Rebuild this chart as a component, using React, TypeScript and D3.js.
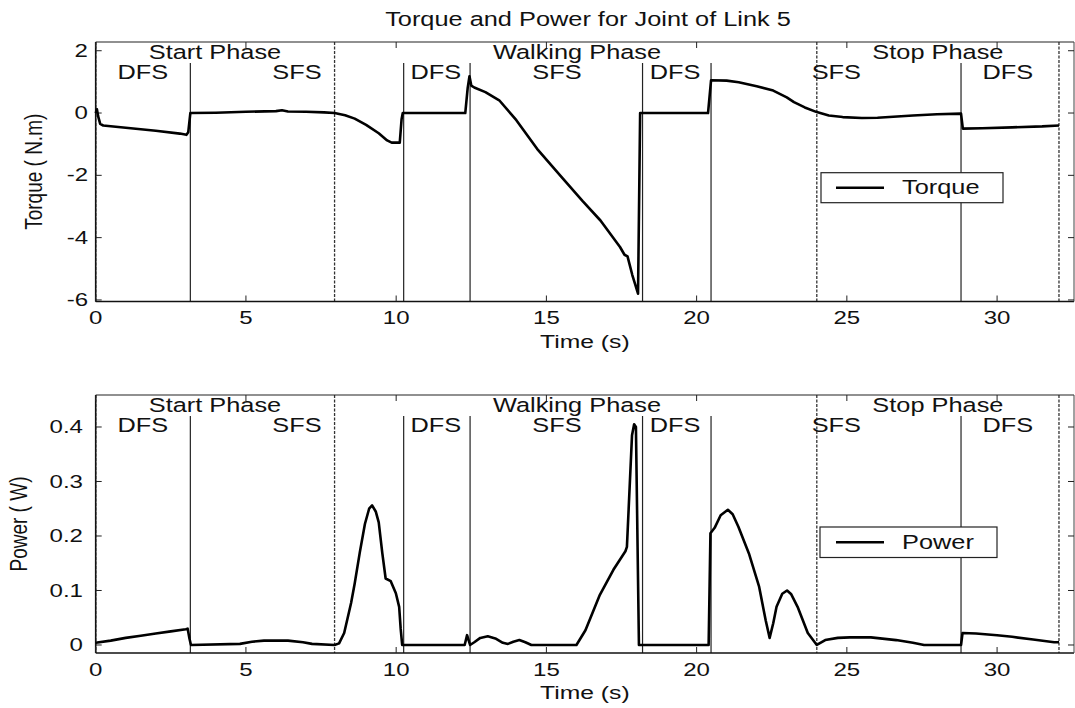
import React from "react";
import * as d3 from "d3";

// ---------- data ----------
const titleText = "Torque and Power for Joint of Link 5";
const xTicks = [0, 5, 10, 15, 20, 25, 30];
const torqueTicks = [-6, -4, -2, 0, 2];
const powerTicks = [0, 0.1, 0.2, 0.3, 0.4];

// phase boundaries (s)
const phaseLines = [0, 7.95, 24.0, 32.06];
const subPhaseLines = [3.15, 10.25, 12.46, 18.2, 20.48, 28.8];

// labels: [time centre, text]
const phaseNames: [number, string][] = [
  [3.97, "Start Phase"],
  [16.02, "Walking Phase"],
  [28.03, "Stop Phase"],
];
const subPhaseNames: [number, string][] = [
  [1.57, "DFS"],
  [6.7, "SFS"],
  [11.32, "DFS"],
  [15.35, "SFS"],
  [19.28, "DFS"],
  [24.65, "SFS"],
  [30.36, "DFS"],
];

const torqueT = [
  0.0, 0.04, 0.08, 0.15, 0.25, 1.0, 2.0, 2.8, 3.02, 3.08, 3.15, 4.0, 5.0, 6.0, 6.2, 6.4, 7.0, 7.6, 7.95,
  8.3, 8.62, 9.0, 9.42, 9.7, 9.85, 10.12, 10.18, 10.22, 12.3, 12.38, 12.44, 12.5, 12.6, 12.97, 13.43,
  14.0, 14.69, 15.5, 16.2, 16.8, 17.45, 17.6, 17.7, 17.86, 18.05, 18.12, 20.38, 20.48, 21.0, 21.4,
  22.0, 22.55, 23.0, 23.24, 23.6, 24.0, 24.4, 24.86, 25.5, 26.02, 27.2, 28.0, 28.8, 28.86, 29.5, 30.5,
  31.5, 32.06,
];
const torqueV = [
  0.0, 0.12, -0.1, -0.35, -0.4, -0.47, -0.57, -0.66, -0.7, -0.62, 0.0, 0.01, 0.04, 0.06, 0.09, 0.05,
  0.04, 0.02, 0.0, -0.07, -0.18, -0.38, -0.65, -0.88, -0.95, -0.95, -0.2, 0.0, 0.0, 0.8, 1.18, 0.88,
  0.82, 0.67, 0.41, -0.23, -1.15, -2.05, -2.82, -3.45, -4.3, -4.55, -4.6, -5.2, -5.8, 0.0, 0.0, 1.05,
  1.04, 0.99, 0.86, 0.72, 0.5, 0.35, 0.18, 0.03, -0.08, -0.13, -0.16, -0.15, -0.08, -0.04, -0.02,
  -0.5, -0.49, -0.46, -0.43, -0.4,
];

const powerT = [
  0.0, 0.5, 1.0, 1.5, 2.0, 2.5, 3.0, 3.06, 3.12, 3.17, 4.8, 5.2, 5.6, 6.4, 6.9, 7.2, 7.95, 8.1, 8.27,
  8.5, 8.62, 8.79, 8.96, 9.1, 9.2, 9.32, 9.42, 9.54, 9.65, 9.82, 9.99, 10.1, 10.15, 10.2, 12.28, 12.36,
  12.46, 12.6, 12.8, 13.05, 13.3, 13.55, 13.72, 13.9, 14.1, 14.3, 14.5, 16.0, 16.3, 16.78, 17.23,
  17.63, 17.68, 17.85, 17.92, 17.98, 18.08, 20.4, 20.46, 20.6, 20.8, 21.04, 21.2, 21.39, 21.74, 22.08,
  22.3, 22.43, 22.55, 22.66, 22.85, 23.01, 23.15, 23.36, 23.7, 24.0, 24.28, 24.7, 25.1, 25.8, 26.64,
  27.2, 27.57, 28.8, 28.85, 29.3, 30.0, 30.5, 31.2, 31.9, 32.06,
];
const powerV = [
  0.004, 0.008, 0.013, 0.017, 0.021, 0.025, 0.029, 0.03, 0.012, 0.0, 0.002, 0.006, 0.008, 0.008,
  0.005, 0.002, 0.0, 0.003, 0.022, 0.077, 0.113, 0.17, 0.222, 0.25, 0.256, 0.245, 0.225, 0.168, 0.122,
  0.117, 0.095, 0.07, 0.03, 0.0, 0.0, 0.018, 0.0, 0.005, 0.013, 0.016, 0.012, 0.004, 0.002, 0.006,
  0.009, 0.005, 0.0, 0.0, 0.027, 0.092, 0.138, 0.172, 0.18, 0.385, 0.405, 0.4, 0.0, 0.0, 0.205, 0.215,
  0.238, 0.248, 0.24, 0.217, 0.168, 0.107, 0.045, 0.013, 0.04, 0.07, 0.094, 0.1, 0.093, 0.07, 0.022,
  0.0, 0.009, 0.013, 0.014, 0.014, 0.009, 0.004, 0.0, 0.0, 0.022, 0.021, 0.018, 0.015, 0.01, 0.005,
  0.005,
];

// ---------- layout ----------
const W = 1075;
const H = 708;
const FONT = "'Liberation Sans', Arial, Helvetica, sans-serif";
const SX = 1.3; // horizontal stretch of the scanned figure

const xLeft = 95.7;
const xRight = 1074;

const x = d3.scaleLinear().domain([0, 32.56]).range([xLeft, xRight]);

type PanelDef = {
  top: number;
  bottom: number;
  domain: [number, number];
  ticks: number[];
  fmt: (v: number) => string;
  tickLabelX: number;
  yLabel: string;
  yLabelX: number;
  t: number[];
  v: number[];
  legend: string;
  legendBox: [number, number, number, number];
};

const panels: PanelDef[] = [
  {
    top: 42,
    bottom: 301.5,
    domain: [-6.05, 2.28],
    ticks: torqueTicks,
    fmt: (v) => String(v),
    tickLabelX: 88,
    yLabel: "Torque ( N.m)",
    yLabelX: 34,
    t: torqueT,
    v: torqueV,
    legend: "Torque",
    legendBox: [821, 172.7, 1003, 202.7],
  },
  {
    top: 395,
    bottom: 653,
    domain: [-0.0147, 0.4587],
    ticks: powerTicks,
    fmt: (v) => (v === 0 ? "0" : d3.format(".1f")(v)),
    tickLabelX: 83,
    yLabel: "Power ( W)",
    yLabelX: 19,
    t: powerT,
    v: powerV,
    legend: "Power",
    legendBox: [820, 527, 997, 557.5],
  },
];

function Txt(props: {
  x: number;
  y: number;
  children: string;
  size: number;
  anchor?: "start" | "middle" | "end";
  rotate?: boolean;
}) {
  const { x: tx, y: ty, children, size, anchor = "middle", rotate } = props;
  return (
    <text
      transform={`translate(${tx},${ty}) scale(${SX},1)${rotate ? " rotate(-90)" : ""}`}
      textAnchor={anchor}
      dominantBaseline="central"
      fontSize={size}
      fontFamily={FONT}
      fill="#111"
    >
      {children}
    </text>
  );
}

function Panel({ p }: { p: PanelDef }) {
  const y = d3.scaleLinear().domain(p.domain).range([p.bottom, p.top]);
  const pts: [number, number][] = p.t.map((t, i) => [t, p.v[i]]);
  const line = d3
    .line<[number, number]>()
    .x((d) => x(d[0]))
    .y((d) => y(d[1]))
    .curve(d3.curveLinear);
  const tickLen = 6;
  const [lx0, ly0, lx1, ly1] = p.legendBox;
  const ly = (ly0 + ly1) / 2;
  return (
    <g>
      {/* phase boundary lines */}
      {phaseLines.map((t, i) => (
        <line
          key={"p" + i}
          x1={x(t)}
          x2={x(t)}
          y1={p.top}
          y2={p.bottom}
          stroke="#333"
          strokeWidth={1.3}
          strokeDasharray="3,1.5"
        />
      ))}
      {subPhaseLines.map((t, i) => (
        <line
          key={"s" + i}
          x1={x(t)}
          x2={x(t)}
          y1={p.top + 21}
          y2={p.bottom}
          stroke="#222"
          strokeWidth={1.2}
        />
      ))}

      {/* axes box */}
      <line x1={xLeft} x2={xRight} y1={p.bottom} y2={p.bottom} stroke="#111" strokeWidth={1.6} />
      <line x1={xLeft} x2={xLeft} y1={p.top} y2={p.bottom} stroke="#111" strokeWidth={1.6} />
      <line x1={xLeft} x2={xRight} y1={p.top} y2={p.top} stroke="#222" strokeWidth={1.2} />
      <line x1={xRight} x2={xRight} y1={p.top} y2={p.bottom} stroke="#444" strokeWidth={1} />

      {/* x ticks */}
      {xTicks.map((t) => (
        <g key={"xt" + t}>
          <line x1={x(t)} x2={x(t)} y1={p.bottom} y2={p.bottom - tickLen} stroke="#222" strokeWidth={1} />
          <line x1={x(t)} x2={x(t)} y1={p.top} y2={p.top + tickLen} stroke="#222" strokeWidth={1} />
          <Txt x={x(t)} y={p.bottom + 16.5} size={18.5}>
            {String(t)}
          </Txt>
        </g>
      ))}
      {/* y ticks */}
      {p.ticks.map((v) => (
        <g key={"yt" + v}>
          <line x1={xLeft} x2={xLeft + tickLen} y1={y(v)} y2={y(v)} stroke="#222" strokeWidth={1} />
          <line x1={xRight} x2={xRight - tickLen} y1={y(v)} y2={y(v)} stroke="#222" strokeWidth={1} />
          <Txt x={p.tickLabelX} y={y(v)} size={18.5} anchor="end">
            {p.fmt(v)}
          </Txt>
        </g>
      ))}

      {/* phase labels */}
      {phaseNames.map(([t, s]) => (
        <Txt key={s} x={x(t)} y={p.top + 11} size={19.5}>
          {s}
        </Txt>
      ))}
      {subPhaseNames.map(([t, s], i) => (
        <Txt key={"sp" + i} x={x(t)} y={p.top + 31} size={19.5}>
          {s}
        </Txt>
      ))}

      {/* data */}
      <path d={line(pts) || ""} fill="none" stroke="#000" strokeWidth={2.6} strokeLinejoin="round" />

      {/* legend */}
      <rect x={lx0} y={ly0} width={lx1 - lx0} height={ly1 - ly0} fill="#fff" stroke="#222" strokeWidth={1.2} />
      <line x1={836} x2={884} y1={ly} y2={ly} stroke="#000" strokeWidth={2.6} />
      <Txt x={902} y={ly} size={19.5} anchor="start">
        {p.legend}
      </Txt>

      {/* axis labels */}
      <Txt x={(xLeft + xRight) / 2} y={p.bottom + 40} size={19}>
        Time (s)
      </Txt>
      <Txt x={p.yLabelX} y={(p.top + p.bottom) / 2} size={19} rotate>
        {p.yLabel}
      </Txt>
    </g>
  );
}

export default function App() {
  return (
    <svg
      width={W}
      height={H}
      viewBox={`0 0 ${W} ${H}`}
      style={{ position: "absolute", left: 0, top: 0, background: "#fff" }}
    >
      <rect x={0} y={0} width={W} height={H} fill="#fff" />
      <Txt x={588} y={20} size={19.5}>
        {titleText}
      </Txt>
      {panels.map((p, i) => (
        <Panel key={i} p={p} />
      ))}
    </svg>
  );
}
